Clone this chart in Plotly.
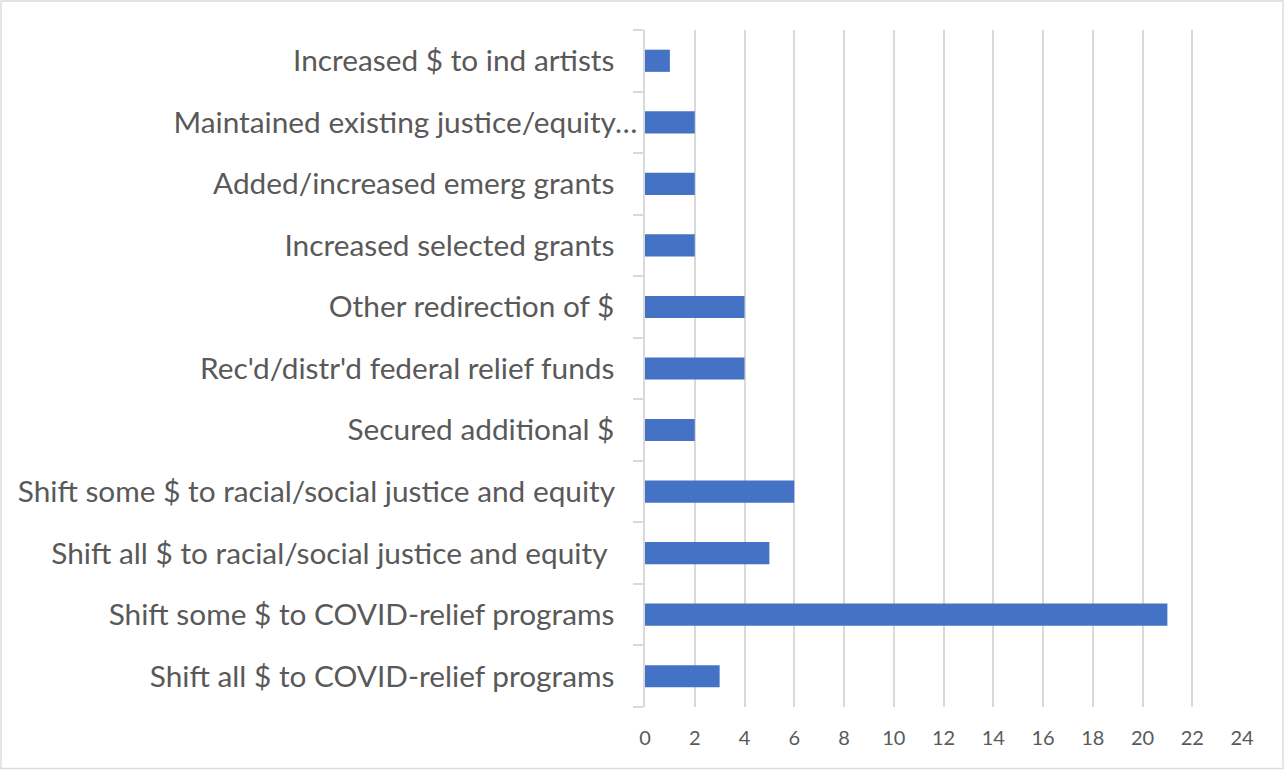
import plotly.graph_objects as go

categories = [
    "Shift all $ to COVID-relief programs",
    "Shift some $ to COVID-relief programs",
    "Shift all $ to racial/social justice and equity",
    "Shift some $ to racial/social justice and equity",
    "Secured additional $",
    "Rec'd/distr'd federal relief funds",
    "Other redirection of $",
    "Increased selected grants",
    "Added/increased emerg grants",
    "Maintained existing justice/equity…",
    "Increased $ to ind artists",
]
values = [3, 21, 5, 6, 2, 4, 4, 2, 2, 2, 1]
trailing_spaces = [3, 3, 4, 3, 3, 3, 3, 3, 3, 0, 3]
x_ticks = list(range(0, 25, 2))

labels = [c + "\u00a0" * n for c, n in zip(categories, trailing_spaces)]

W, H = 1284, 770
L, R, T, B = 645, 42, 30, 63
pw, ph = W - L - R, H - T - B

def px2x(p):
    return (p - L) / pw

def py2y(p):
    return (H - B - p) / ph

fig = go.Figure(go.Bar(
    x=values, y=labels, orientation="h",
    marker=dict(color="#4472C4", line=dict(width=0)),
    hoverinfo="x+y",
))

font = "Lato, Carlito, Calibri, sans-serif"

fig.update_layout(
    width=W, height=H,
    margin=dict(l=L, r=R, t=T, b=B, autoexpand=False),
    paper_bgcolor="white", plot_bgcolor="white",
    bargap=0.64,
    showlegend=False,
    font=dict(family=font, color="#595959"),
    shapes=[dict(
        type="rect", xref="paper", yref="paper",
        x0=px2x(1), x1=px2x(1283), y0=py2y(768.5), y1=py2y(1),
        line=dict(color="#d9d9d9", width=1.3), fillcolor="rgba(0,0,0,0)",
        layer="below",
    )],
)

fig.update_xaxes(
    range=[0, 24], tickvals=x_ticks, ticktext=[str(v) for v in x_ticks],
    showgrid=True, gridcolor="#d9d9d9", gridwidth=1.5,
    zeroline=False, showline=False, ticks="",
    tickfont=dict(size=20, color="#595959", family=font),
    ticklabelstandoff=17,
    fixedrange=True,
)

fig.update_yaxes(
    type="category", categoryorder="array", categoryarray=labels,
    showline=True, linecolor="#d9d9d9", linewidth=1.5,
    ticks="outside", tickson="boundaries", ticklen=10, tickcolor="#d9d9d9", tickwidth=1.5,
    showgrid=False, zeroline=False,
    tickfont=dict(size=29.8, color="#595959", family=font),
    fixedrange=True,
)

fig.write_html(
    "out.html",
    config={"displayModeBar": False},
    post_script="document.body.style.margin='0';document.body.style.overflow='hidden';",
)
